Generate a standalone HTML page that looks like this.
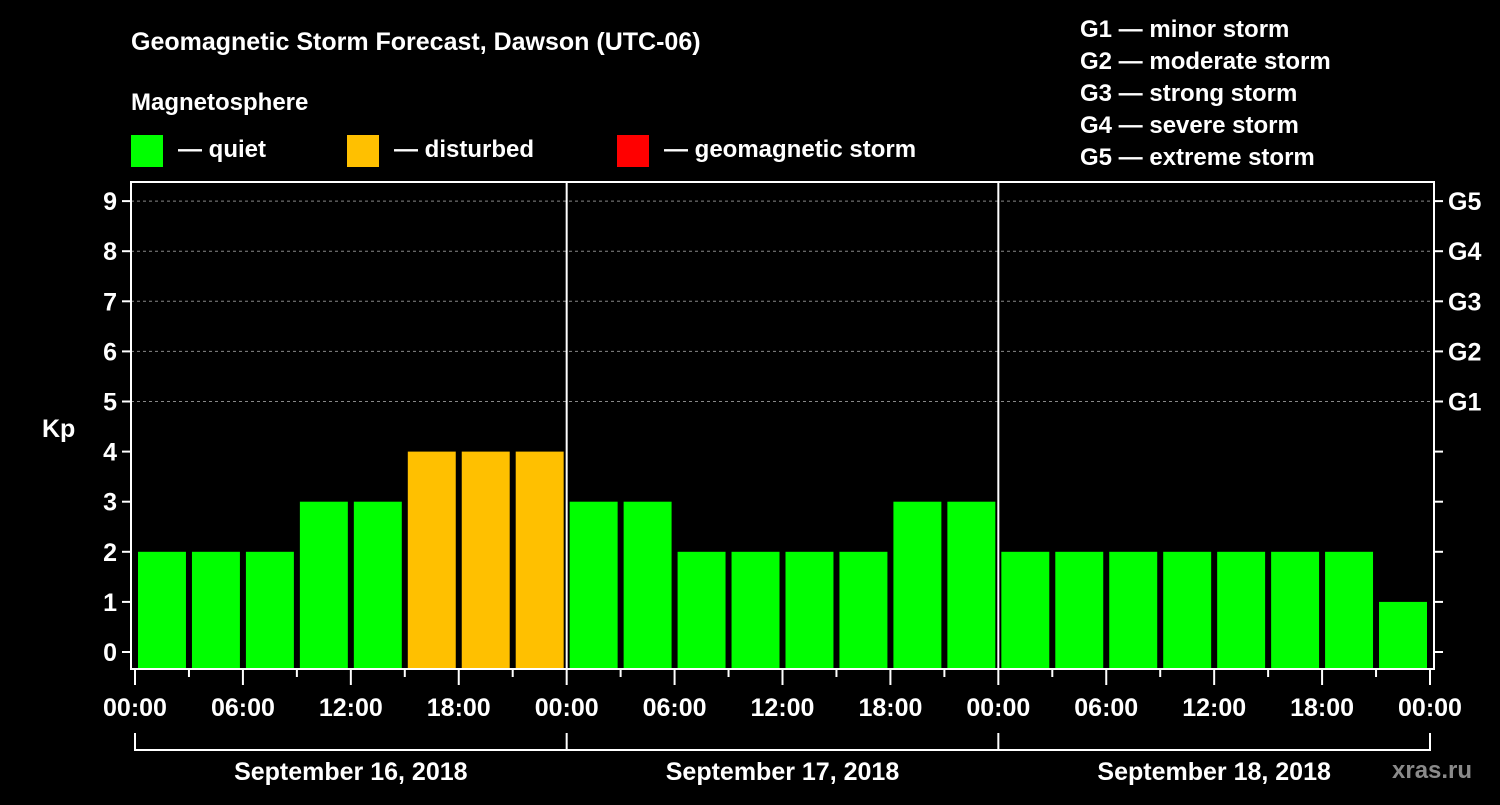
<!DOCTYPE html>
<html><head><meta charset="utf-8"><style>
body{margin:0;background:#000;width:1500px;height:800px;overflow:hidden}
svg text{font-family:"Liberation Sans",Arial,sans-serif;font-weight:bold;fill:#fff}
</style></head><body>
<svg id="c" width="1500" height="800" xmlns="http://www.w3.org/2000/svg">
<text x="131" y="50" font-size="25">Geomagnetic Storm Forecast, Dawson (UTC-06)</text>
<text x="131" y="110" font-size="24">Magnetosphere</text>
<g><rect x="131" y="135" width="32" height="32" fill="#00ff00"/><text x="178" y="157" font-size="24">— quiet</text></g>
<g><rect x="347" y="135" width="32" height="32" fill="#ffc000"/><text x="394" y="157" font-size="24">— disturbed</text></g>
<g><rect x="617" y="135" width="32" height="32" fill="#ff0000"/><text x="664" y="157" font-size="24">— geomagnetic storm</text></g>
<g font-size="24">
<text x="1080" y="37">G1 — minor storm</text><text x="1080" y="69">G2 — moderate storm</text><text x="1080" y="101">G3 — strong storm</text><text x="1080" y="133">G4 — severe storm</text><text x="1080" y="165">G5 — extreme storm</text></g>
<text x="42" y="437" font-size="25">Kp</text>
<text x="1392" y="778" font-size="24" fill="#888" style="fill:#8a8a8a">xras.ru</text>
<g id="plot"></g>
</svg>
<script>
const kpValues=[2,2,2,3,3,4,4,4, 3,3,2,2,2,2,3,3, 2,2,2,2,2,2,2,1];
const dayLabels=["September 16, 2018","September 17, 2018","September 18, 2018"];
const hourLabels=["00:00","06:00","12:00","18:00"];
const yTicks=[0,1,2,3,4,5,6,7,8,9];
const gLabels=["G1","G2","G3","G4","G5"];
const NS="http://www.w3.org/2000/svg";
const X0=135,X1=1430,L=131,R=1434,T=182,B=669;
const nSlots=kpValues.length;
const xs=i=>X0+(X1-X0)*i/nSlots;
const ys=v=>652-50.1*v;
const g=document.getElementById('plot');
function mk(t,a){const e=document.createElementNS(NS,t);for(const k in a)e.setAttribute(k,a[k]);g.appendChild(e);return e;}
yTicks.forEach(v=>{
 if(v>=5){const l=mk('line',{x1:L,x2:R,y1:ys(v),y2:ys(v),stroke:'#888','stroke-dasharray':'3,3','stroke-width':1});
 
 }
 const t=mk('line',{x1:L-9,x2:L,y1:ys(v),y2:ys(v),stroke:'#fff','stroke-width':2});
 
 
 const t2=mk('line',{x1:R,x2:R+9,y1:ys(v),y2:ys(v),stroke:'#fff','stroke-width':2});
 
 
 const tx=mk('text',{x:L-14,y:ys(v)+9,'font-size':25,'text-anchor':'end'});tx.textContent=v;
 
 
});
gLabels.forEach((s,i)=>{const tx=mk('text',{x:R+14,y:ys(5+i)+9,'font-size':25});tx.textContent=s;
 
 });
kpValues.forEach((v,i)=>{
 const col=v>=5?'#ff0000':(v>=4?'#ffc000':'#00ff00');
 const w=xs(1)-xs(0);
 const r=mk('rect',{x:xs(i)+3,y:ys(v),width:w-6,height:B-ys(v),fill:col});
 
 
});
const frame=mk('rect',{x:L,y:T,width:R-L,height:B-T,fill:'none',stroke:'#fff','stroke-width':2});


const perDay=nSlots/dayLabels.length;
for(let d=1;d<dayLabels.length;d++){const l=mk('line',{x1:xs(d*perDay),x2:xs(d*perDay),y1:T,y2:B,stroke:'#fff','stroke-width':2});
 
 }
for(let i=0;i<=nSlots;i++){
 const major=i%2===0;
 const t=mk('line',{x1:xs(i),x2:xs(i),y1:B,y2:major?685:677,stroke:'#fff','stroke-width':2});
 
 
 if(major){const tx=mk('text',{x:xs(i),y:716,'font-size':25,'text-anchor':'middle'});
 tx.textContent=hourLabels[(i/2)%hourLabels.length];
 
 }
}
dayLabels.forEach((s,d)=>{
 const a=xs(d*perDay),b=xs((d+1)*perDay);
 const p=mk('path',{d:`M${a},733V750H${b}`+(d===dayLabels.length-1?`V733`:''),stroke:'#fff','stroke-width':2,fill:'none'});
 
 
 const tx=mk('text',{x:(a+b)/2,y:780,'font-size':25,'text-anchor':'middle'});tx.textContent=s;
 
 
});
</script>
</body></html>
